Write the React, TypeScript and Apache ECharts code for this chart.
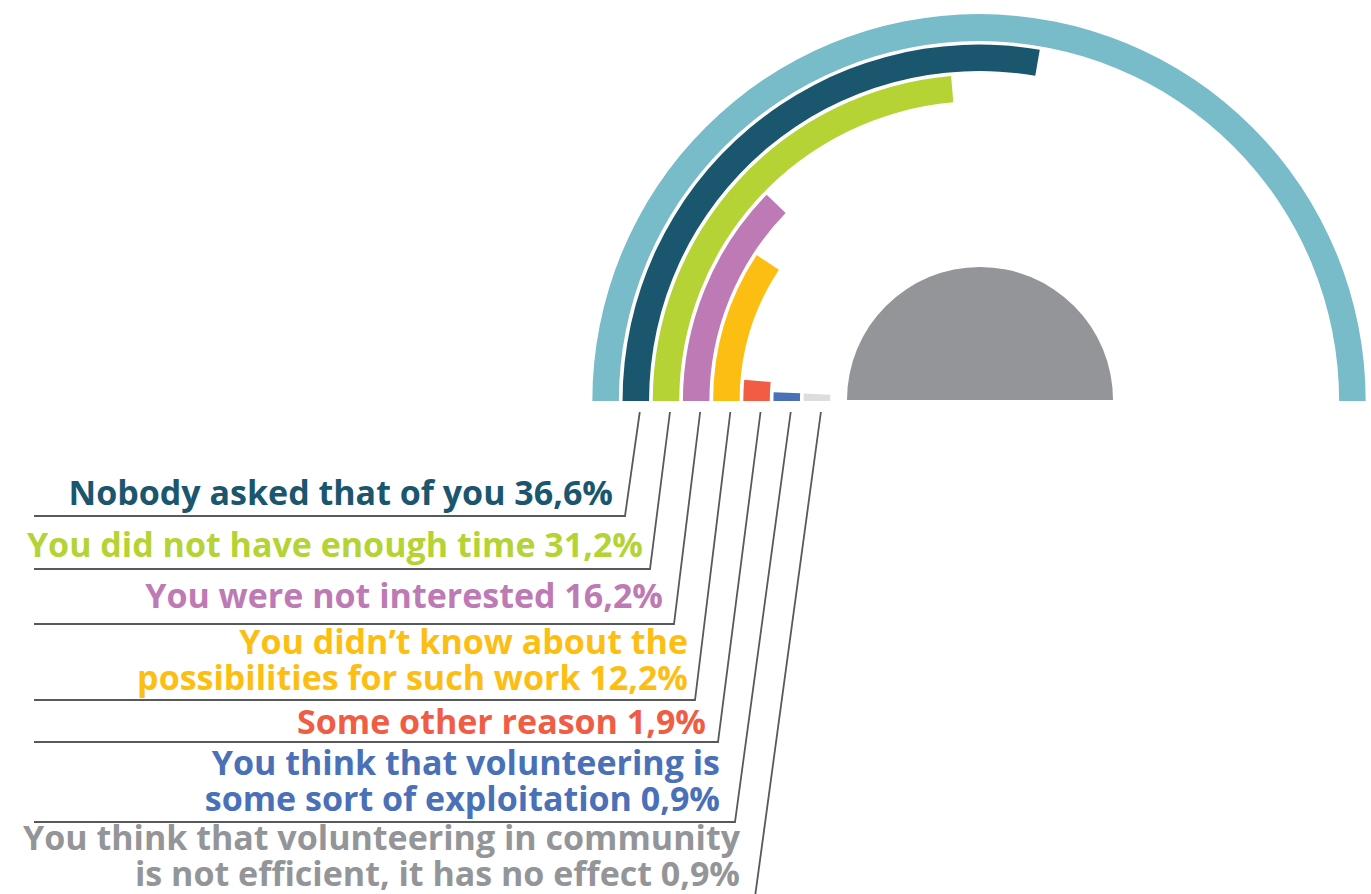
import React, { useEffect, useRef } from "react";
import * as echarts from "echarts";

// ---- data (top label first = outermost coloured ring) ----
const reasons: string[][] = [
  ["Nobody asked that of you"],
  ["You did not have enough time"],
  ["You were not interested"],
  ["You didn\u2019t know about the", "possibilities for such work"],
  ["Some other reason"],
  ["You think that volunteering is", "some sort of exploitation"],
  ["You think that volunteering in community", "is not efficient, it has no effect"],
];
const shares: number[] = [36.6, 31.2, 16.2, 12.2, 1.9, 0.9, 0.9];
const colors: string[] = ["#1A566E", "#B5D334", "#BD7AB4", "#FDBE14", "#F05D44", "#4A70B8", "#DCDDDE"];
const textColors: string[] = ["#1A566E", "#B5D334", "#BD7AB4", "#FDBE14", "#F05D44", "#4A70B8", "#939598"];
const halfCircleValue = 66; // % represented by the full half circle (outer ring)
const outerRingColor = "#78BBC9";
const discColor = "#939598";

// ---- layout ----
const CX = 979;
const CY = 401;
const R0 = 147;
const R1 = 388.5;
const DISC_R = 133;
const LINE_TOP_Y = 412;
const LEFT_X = 34;
const textRight = [613, 643, 663, 688, 706, 720, 740];
const lastBaseline = [504, 556, 607, 689, 733, 810, 885];
const underlineY = [516, 569, 624, 700, 742, 822, null];
const cornerX = [625, 650, 674, 695, 718, 735, 755];
const FONT_SIZE = 34;
const LINE_H = 36;
const FONT = "'Open Sans', Lato, sans-serif";

function fmt(v: number) {
  return v.toFixed(1).replace(".", ",") + "%";
}

export default function App() {
  const ref = useRef<HTMLDivElement>(null);
  useEffect(() => {
    if (!ref.current) return;
    const chart = echarts.init(ref.current, undefined, { renderer: "svg" });

    const n = shares.length + 1;
    const band = (R1 - R0) / n;
    const radiusCats = [...reasons.map((r) => r.join(" "))].reverse().concat(["Total"]);
    const ringData = [...shares]
      .map((v, i) => ({ value: v, itemStyle: { color: colors[i] } }))
      .reverse()
      .concat([{ value: halfCircleValue, itemStyle: { color: outerRingColor } }]);

    const elements: any[] = [];
    reasons.forEach((lines, i) => {
      const text = lines.join("\n") + " " + fmt(shares[i]);
      elements.push({
        type: "text",
        silent: true,
        style: {
          text,
          x: textRight[i],
          y: lastBaseline[i] + 6,
          align: "right",
          verticalAlign: "bottom",
          fill: textColors[i],
          fontSize: FONT_SIZE,
          fontWeight: "bold",
          fontFamily: FONT,
          lineHeight: LINE_H,
        },
      });
      const rMid = R1 - (i + 1.5) * band;
      const topX = CX - rMid + 4;
      const uy = underlineY[i];
      let pts: number[][];
      if (uy !== null) {
        pts = [
          [LEFT_X, uy],
          [cornerX[i], uy],
          [topX, LINE_TOP_Y],
        ];
      } else {
        const endY = 900;
        const slope = (cornerX[5] - (CX - (R1 - 6.5 * band) + 4)) / ((underlineY[5] as number) - LINE_TOP_Y);
        pts = [
          [topX + slope * (endY - LINE_TOP_Y), endY],
          [topX, LINE_TOP_Y],
        ];
      }
      elements.push({
        type: "polyline",
        silent: true,
        shape: { points: pts },
        style: { stroke: "#58595B", lineWidth: 1.8, fill: null },
      });
    });

    chart.setOption({
      animation: false,
      backgroundColor: "#ffffff",
      polar: { center: [CX, CY], radius: [R0, R1] },
      angleAxis: {
        type: "value",
        min: 0,
        max: halfCircleValue * 2,
        startAngle: 180,
        clockwise: true,
        show: false,
      },
      radiusAxis: {
        type: "category",
        data: radiusCats,
        show: false,
      },
      series: [
        {
          type: "bar",
          coordinateSystem: "polar",
          barWidth: 26.5,
          silent: true,
          data: ringData,
        },
        {
          type: "pie",
          center: [CX + 1, CY - 1],
          radius: [0, DISC_R],
          startAngle: 180,
          silent: true,
          label: { show: false },
          labelLine: { show: false },
          data: [
            { value: 1, itemStyle: { color: discColor } },
            { value: 1, itemStyle: { color: "rgba(0,0,0,0)" } },
          ],
        },
      ],
      graphic: { elements },
    });
    return () => chart.dispose();
  }, []);
  return (
    <div
      ref={ref}
      style={{ position: "fixed", left: 0, top: 0, width: 1371, height: 894, background: "#fff" }}
    />
  );
}
